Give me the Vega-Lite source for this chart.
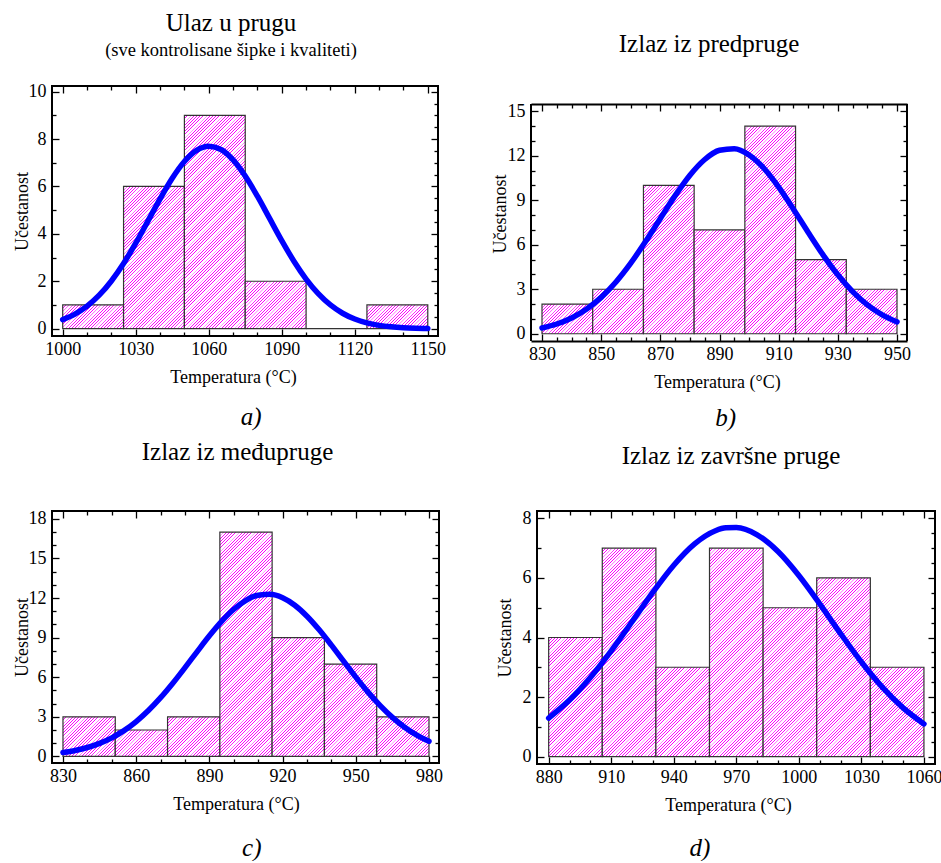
{
  "$schema": "https://vega.github.io/schema/vega-lite/v6.json",
  "padding": {"left": 12, "top": 10, "right": 3, "bottom": 0},
  "params": [
    {"name": "hatch", "value": [
{"offset":0.00,"color":"#f0f"},{"offset":0.002,"color":"#f0f"},{"offset":0.003,"color":"#fff"},{"offset":0.0095,"color":"#fff"},
{"offset":0.01,"color":"#f0f"},{"offset":0.012,"color":"#f0f"},{"offset":0.013,"color":"#fff"},{"offset":0.0195,"color":"#fff"},
{"offset":0.02,"color":"#f0f"},{"offset":0.022,"color":"#f0f"},{"offset":0.023,"color":"#fff"},{"offset":0.0295,"color":"#fff"},
{"offset":0.03,"color":"#f0f"},{"offset":0.032,"color":"#f0f"},{"offset":0.033,"color":"#fff"},{"offset":0.0395,"color":"#fff"},
{"offset":0.04,"color":"#f0f"},{"offset":0.042,"color":"#f0f"},{"offset":0.043,"color":"#fff"},{"offset":0.0495,"color":"#fff"},
{"offset":0.05,"color":"#f0f"},{"offset":0.052,"color":"#f0f"},{"offset":0.053,"color":"#fff"},{"offset":0.0595,"color":"#fff"},
{"offset":0.06,"color":"#f0f"},{"offset":0.062,"color":"#f0f"},{"offset":0.063,"color":"#fff"},{"offset":0.0695,"color":"#fff"},
{"offset":0.07,"color":"#f0f"},{"offset":0.072,"color":"#f0f"},{"offset":0.073,"color":"#fff"},{"offset":0.0795,"color":"#fff"},
{"offset":0.08,"color":"#f0f"},{"offset":0.082,"color":"#f0f"},{"offset":0.083,"color":"#fff"},{"offset":0.0895,"color":"#fff"},
{"offset":0.09,"color":"#f0f"},{"offset":0.092,"color":"#f0f"},{"offset":0.093,"color":"#fff"},{"offset":0.0995,"color":"#fff"},
{"offset":0.10,"color":"#f0f"},{"offset":0.102,"color":"#f0f"},{"offset":0.103,"color":"#fff"},{"offset":0.1095,"color":"#fff"},
{"offset":0.11,"color":"#f0f"},{"offset":0.112,"color":"#f0f"},{"offset":0.113,"color":"#fff"},{"offset":0.1195,"color":"#fff"},
{"offset":0.12,"color":"#f0f"},{"offset":0.122,"color":"#f0f"},{"offset":0.123,"color":"#fff"},{"offset":0.1295,"color":"#fff"},
{"offset":0.13,"color":"#f0f"},{"offset":0.132,"color":"#f0f"},{"offset":0.133,"color":"#fff"},{"offset":0.1395,"color":"#fff"},
{"offset":0.14,"color":"#f0f"},{"offset":0.142,"color":"#f0f"},{"offset":0.143,"color":"#fff"},{"offset":0.1495,"color":"#fff"},
{"offset":0.15,"color":"#f0f"},{"offset":0.152,"color":"#f0f"},{"offset":0.153,"color":"#fff"},{"offset":0.1595,"color":"#fff"},
{"offset":0.16,"color":"#f0f"},{"offset":0.162,"color":"#f0f"},{"offset":0.163,"color":"#fff"},{"offset":0.1695,"color":"#fff"},
{"offset":0.17,"color":"#f0f"},{"offset":0.172,"color":"#f0f"},{"offset":0.173,"color":"#fff"},{"offset":0.1795,"color":"#fff"},
{"offset":0.18,"color":"#f0f"},{"offset":0.182,"color":"#f0f"},{"offset":0.183,"color":"#fff"},{"offset":0.1895,"color":"#fff"},
{"offset":0.19,"color":"#f0f"},{"offset":0.192,"color":"#f0f"},{"offset":0.193,"color":"#fff"},{"offset":0.1995,"color":"#fff"},
{"offset":0.20,"color":"#f0f"},{"offset":0.202,"color":"#f0f"},{"offset":0.203,"color":"#fff"},{"offset":0.2095,"color":"#fff"},
{"offset":0.21,"color":"#f0f"},{"offset":0.212,"color":"#f0f"},{"offset":0.213,"color":"#fff"},{"offset":0.2195,"color":"#fff"},
{"offset":0.22,"color":"#f0f"},{"offset":0.222,"color":"#f0f"},{"offset":0.223,"color":"#fff"},{"offset":0.2295,"color":"#fff"},
{"offset":0.23,"color":"#f0f"},{"offset":0.232,"color":"#f0f"},{"offset":0.233,"color":"#fff"},{"offset":0.2395,"color":"#fff"},
{"offset":0.24,"color":"#f0f"},{"offset":0.242,"color":"#f0f"},{"offset":0.243,"color":"#fff"},{"offset":0.2495,"color":"#fff"},
{"offset":0.25,"color":"#f0f"},{"offset":0.252,"color":"#f0f"},{"offset":0.253,"color":"#fff"},{"offset":0.2595,"color":"#fff"},
{"offset":0.26,"color":"#f0f"},{"offset":0.262,"color":"#f0f"},{"offset":0.263,"color":"#fff"},{"offset":0.2695,"color":"#fff"},
{"offset":0.27,"color":"#f0f"},{"offset":0.272,"color":"#f0f"},{"offset":0.273,"color":"#fff"},{"offset":0.2795,"color":"#fff"},
{"offset":0.28,"color":"#f0f"},{"offset":0.282,"color":"#f0f"},{"offset":0.283,"color":"#fff"},{"offset":0.2895,"color":"#fff"},
{"offset":0.29,"color":"#f0f"},{"offset":0.292,"color":"#f0f"},{"offset":0.293,"color":"#fff"},{"offset":0.2995,"color":"#fff"},
{"offset":0.30,"color":"#f0f"},{"offset":0.302,"color":"#f0f"},{"offset":0.303,"color":"#fff"},{"offset":0.3095,"color":"#fff"},
{"offset":0.31,"color":"#f0f"},{"offset":0.312,"color":"#f0f"},{"offset":0.313,"color":"#fff"},{"offset":0.3195,"color":"#fff"},
{"offset":0.32,"color":"#f0f"},{"offset":0.322,"color":"#f0f"},{"offset":0.323,"color":"#fff"},{"offset":0.3295,"color":"#fff"},
{"offset":0.33,"color":"#f0f"},{"offset":0.332,"color":"#f0f"},{"offset":0.333,"color":"#fff"},{"offset":0.3395,"color":"#fff"},
{"offset":0.34,"color":"#f0f"},{"offset":0.342,"color":"#f0f"},{"offset":0.343,"color":"#fff"},{"offset":0.3495,"color":"#fff"},
{"offset":0.35,"color":"#f0f"},{"offset":0.352,"color":"#f0f"},{"offset":0.353,"color":"#fff"},{"offset":0.3595,"color":"#fff"},
{"offset":0.36,"color":"#f0f"},{"offset":0.362,"color":"#f0f"},{"offset":0.363,"color":"#fff"},{"offset":0.3695,"color":"#fff"},
{"offset":0.37,"color":"#f0f"},{"offset":0.372,"color":"#f0f"},{"offset":0.373,"color":"#fff"},{"offset":0.3795,"color":"#fff"},
{"offset":0.38,"color":"#f0f"},{"offset":0.382,"color":"#f0f"},{"offset":0.383,"color":"#fff"},{"offset":0.3895,"color":"#fff"},
{"offset":0.39,"color":"#f0f"},{"offset":0.392,"color":"#f0f"},{"offset":0.393,"color":"#fff"},{"offset":0.3995,"color":"#fff"},
{"offset":0.40,"color":"#f0f"},{"offset":0.402,"color":"#f0f"},{"offset":0.403,"color":"#fff"},{"offset":0.4095,"color":"#fff"},
{"offset":0.41,"color":"#f0f"},{"offset":0.412,"color":"#f0f"},{"offset":0.413,"color":"#fff"},{"offset":0.4195,"color":"#fff"},
{"offset":0.42,"color":"#f0f"},{"offset":0.422,"color":"#f0f"},{"offset":0.423,"color":"#fff"},{"offset":0.4295,"color":"#fff"},
{"offset":0.43,"color":"#f0f"},{"offset":0.432,"color":"#f0f"},{"offset":0.433,"color":"#fff"},{"offset":0.4395,"color":"#fff"},
{"offset":0.44,"color":"#f0f"},{"offset":0.442,"color":"#f0f"},{"offset":0.443,"color":"#fff"},{"offset":0.4495,"color":"#fff"},
{"offset":0.45,"color":"#f0f"},{"offset":0.452,"color":"#f0f"},{"offset":0.453,"color":"#fff"},{"offset":0.4595,"color":"#fff"},
{"offset":0.46,"color":"#f0f"},{"offset":0.462,"color":"#f0f"},{"offset":0.463,"color":"#fff"},{"offset":0.4695,"color":"#fff"},
{"offset":0.47,"color":"#f0f"},{"offset":0.472,"color":"#f0f"},{"offset":0.473,"color":"#fff"},{"offset":0.4795,"color":"#fff"},
{"offset":0.48,"color":"#f0f"},{"offset":0.482,"color":"#f0f"},{"offset":0.483,"color":"#fff"},{"offset":0.4895,"color":"#fff"},
{"offset":0.49,"color":"#f0f"},{"offset":0.492,"color":"#f0f"},{"offset":0.493,"color":"#fff"},{"offset":0.4995,"color":"#fff"},
{"offset":0.50,"color":"#f0f"},{"offset":0.502,"color":"#f0f"},{"offset":0.503,"color":"#fff"},{"offset":0.5095,"color":"#fff"},
{"offset":0.51,"color":"#f0f"},{"offset":0.512,"color":"#f0f"},{"offset":0.513,"color":"#fff"},{"offset":0.5195,"color":"#fff"},
{"offset":0.52,"color":"#f0f"},{"offset":0.522,"color":"#f0f"},{"offset":0.523,"color":"#fff"},{"offset":0.5295,"color":"#fff"},
{"offset":0.53,"color":"#f0f"},{"offset":0.532,"color":"#f0f"},{"offset":0.533,"color":"#fff"},{"offset":0.5395,"color":"#fff"},
{"offset":0.54,"color":"#f0f"},{"offset":0.542,"color":"#f0f"},{"offset":0.543,"color":"#fff"},{"offset":0.5495,"color":"#fff"},
{"offset":0.55,"color":"#f0f"},{"offset":0.552,"color":"#f0f"},{"offset":0.553,"color":"#fff"},{"offset":0.5595,"color":"#fff"},
{"offset":0.56,"color":"#f0f"},{"offset":0.562,"color":"#f0f"},{"offset":0.563,"color":"#fff"},{"offset":0.5695,"color":"#fff"},
{"offset":0.57,"color":"#f0f"},{"offset":0.572,"color":"#f0f"},{"offset":0.573,"color":"#fff"},{"offset":0.5795,"color":"#fff"},
{"offset":0.58,"color":"#f0f"},{"offset":0.582,"color":"#f0f"},{"offset":0.583,"color":"#fff"},{"offset":0.5895,"color":"#fff"},
{"offset":0.59,"color":"#f0f"},{"offset":0.592,"color":"#f0f"},{"offset":0.593,"color":"#fff"},{"offset":0.5995,"color":"#fff"},
{"offset":0.60,"color":"#f0f"},{"offset":0.602,"color":"#f0f"},{"offset":0.603,"color":"#fff"},{"offset":0.6095,"color":"#fff"},
{"offset":0.61,"color":"#f0f"},{"offset":0.612,"color":"#f0f"},{"offset":0.613,"color":"#fff"},{"offset":0.6195,"color":"#fff"},
{"offset":0.62,"color":"#f0f"},{"offset":0.622,"color":"#f0f"},{"offset":0.623,"color":"#fff"},{"offset":0.6295,"color":"#fff"},
{"offset":0.63,"color":"#f0f"},{"offset":0.632,"color":"#f0f"},{"offset":0.633,"color":"#fff"},{"offset":0.6395,"color":"#fff"},
{"offset":0.64,"color":"#f0f"},{"offset":0.642,"color":"#f0f"},{"offset":0.643,"color":"#fff"},{"offset":0.6495,"color":"#fff"},
{"offset":0.65,"color":"#f0f"},{"offset":0.652,"color":"#f0f"},{"offset":0.653,"color":"#fff"},{"offset":0.6595,"color":"#fff"},
{"offset":0.66,"color":"#f0f"},{"offset":0.662,"color":"#f0f"},{"offset":0.663,"color":"#fff"},{"offset":0.6695,"color":"#fff"},
{"offset":0.67,"color":"#f0f"},{"offset":0.672,"color":"#f0f"},{"offset":0.673,"color":"#fff"},{"offset":0.6795,"color":"#fff"},
{"offset":0.68,"color":"#f0f"},{"offset":0.682,"color":"#f0f"},{"offset":0.683,"color":"#fff"},{"offset":0.6895,"color":"#fff"},
{"offset":0.69,"color":"#f0f"},{"offset":0.692,"color":"#f0f"},{"offset":0.693,"color":"#fff"},{"offset":0.6995,"color":"#fff"},
{"offset":0.70,"color":"#f0f"},{"offset":0.702,"color":"#f0f"},{"offset":0.703,"color":"#fff"},{"offset":0.7095,"color":"#fff"},
{"offset":0.71,"color":"#f0f"},{"offset":0.712,"color":"#f0f"},{"offset":0.713,"color":"#fff"},{"offset":0.7195,"color":"#fff"},
{"offset":0.72,"color":"#f0f"},{"offset":0.722,"color":"#f0f"},{"offset":0.723,"color":"#fff"},{"offset":0.7295,"color":"#fff"},
{"offset":0.73,"color":"#f0f"},{"offset":0.732,"color":"#f0f"},{"offset":0.733,"color":"#fff"},{"offset":0.7395,"color":"#fff"},
{"offset":0.74,"color":"#f0f"},{"offset":0.742,"color":"#f0f"},{"offset":0.743,"color":"#fff"},{"offset":0.7495,"color":"#fff"},
{"offset":0.75,"color":"#f0f"},{"offset":0.752,"color":"#f0f"},{"offset":0.753,"color":"#fff"},{"offset":0.7595,"color":"#fff"},
{"offset":0.76,"color":"#f0f"},{"offset":0.762,"color":"#f0f"},{"offset":0.763,"color":"#fff"},{"offset":0.7695,"color":"#fff"},
{"offset":0.77,"color":"#f0f"},{"offset":0.772,"color":"#f0f"},{"offset":0.773,"color":"#fff"},{"offset":0.7795,"color":"#fff"},
{"offset":0.78,"color":"#f0f"},{"offset":0.782,"color":"#f0f"},{"offset":0.783,"color":"#fff"},{"offset":0.7895,"color":"#fff"},
{"offset":0.79,"color":"#f0f"},{"offset":0.792,"color":"#f0f"},{"offset":0.793,"color":"#fff"},{"offset":0.7995,"color":"#fff"},
{"offset":0.80,"color":"#f0f"},{"offset":0.802,"color":"#f0f"},{"offset":0.803,"color":"#fff"},{"offset":0.8095,"color":"#fff"},
{"offset":0.81,"color":"#f0f"},{"offset":0.812,"color":"#f0f"},{"offset":0.813,"color":"#fff"},{"offset":0.8195,"color":"#fff"},
{"offset":0.82,"color":"#f0f"},{"offset":0.822,"color":"#f0f"},{"offset":0.823,"color":"#fff"},{"offset":0.8295,"color":"#fff"},
{"offset":0.83,"color":"#f0f"},{"offset":0.832,"color":"#f0f"},{"offset":0.833,"color":"#fff"},{"offset":0.8395,"color":"#fff"},
{"offset":0.84,"color":"#f0f"},{"offset":0.842,"color":"#f0f"},{"offset":0.843,"color":"#fff"},{"offset":0.8495,"color":"#fff"},
{"offset":0.85,"color":"#f0f"},{"offset":0.852,"color":"#f0f"},{"offset":0.853,"color":"#fff"},{"offset":0.8595,"color":"#fff"},
{"offset":0.86,"color":"#f0f"},{"offset":0.862,"color":"#f0f"},{"offset":0.863,"color":"#fff"},{"offset":0.8695,"color":"#fff"},
{"offset":0.87,"color":"#f0f"},{"offset":0.872,"color":"#f0f"},{"offset":0.873,"color":"#fff"},{"offset":0.8795,"color":"#fff"},
{"offset":0.88,"color":"#f0f"},{"offset":0.882,"color":"#f0f"},{"offset":0.883,"color":"#fff"},{"offset":0.8895,"color":"#fff"},
{"offset":0.89,"color":"#f0f"},{"offset":0.892,"color":"#f0f"},{"offset":0.893,"color":"#fff"},{"offset":0.8995,"color":"#fff"},
{"offset":0.90,"color":"#f0f"},{"offset":0.902,"color":"#f0f"},{"offset":0.903,"color":"#fff"},{"offset":0.9095,"color":"#fff"},
{"offset":0.91,"color":"#f0f"},{"offset":0.912,"color":"#f0f"},{"offset":0.913,"color":"#fff"},{"offset":0.9195,"color":"#fff"},
{"offset":0.92,"color":"#f0f"},{"offset":0.922,"color":"#f0f"},{"offset":0.923,"color":"#fff"},{"offset":0.9295,"color":"#fff"},
{"offset":0.93,"color":"#f0f"},{"offset":0.932,"color":"#f0f"},{"offset":0.933,"color":"#fff"},{"offset":0.9395,"color":"#fff"},
{"offset":0.94,"color":"#f0f"},{"offset":0.942,"color":"#f0f"},{"offset":0.943,"color":"#fff"},{"offset":0.9495,"color":"#fff"},
{"offset":0.95,"color":"#f0f"},{"offset":0.952,"color":"#f0f"},{"offset":0.953,"color":"#fff"},{"offset":0.9595,"color":"#fff"},
{"offset":0.96,"color":"#f0f"},{"offset":0.962,"color":"#f0f"},{"offset":0.963,"color":"#fff"},{"offset":0.9695,"color":"#fff"},
{"offset":0.97,"color":"#f0f"},{"offset":0.972,"color":"#f0f"},{"offset":0.973,"color":"#fff"},{"offset":0.9795,"color":"#fff"},
{"offset":0.98,"color":"#f0f"},{"offset":0.982,"color":"#f0f"},{"offset":0.983,"color":"#fff"},{"offset":0.9895,"color":"#fff"},
{"offset":0.99,"color":"#f0f"},{"offset":0.992,"color":"#f0f"},{"offset":0.993,"color":"#fff"},{"offset":0.9995,"color":"#fff"}
    ]}
  ],
  "vconcat": [
    {
      "hconcat": [
        {
          "title": {"text": "a)", "orient": "bottom", "anchor": "middle", "fontSize": 25, "fontStyle": "italic", "offset": 18, "dx": 22},
          "vconcat": [
            {
              "width": 386, "height": 250,
              "title": {"text": "Ulaz u prugu", "subtitle": "(sve kontrolisane šipke i kvaliteti)", "fontSize": 25, "subtitleFontSize": 18.5, "subtitlePadding": 5, "offset": 23, "dx": -14, "anchor": "middle"},
              "layer": [
                {
                  "data": {"values": [
                    {"start": 1000, "end": 1025, "count": 1},
                    {"start": 1025, "end": 1050, "count": 6},
                    {"start": 1050, "end": 1075, "count": 9},
                    {"start": 1075, "end": 1100, "count": 2},
                    {"start": 1100, "end": 1125, "count": 0},
                    {"start": 1125, "end": 1150, "count": 1}
                  ]},
                  "mark": {"type": "bar", "stroke": "#333333", "strokeWidth": 1.2, "fill": {"expr": "{gradient:'linear',x1:0,y1:0,x2:320*60.83/(3700+pow(datum.count*23.7,2)),y2:320*datum.count*23.7/(3700+pow(datum.count*23.7,2)),stops:hatch}"}},
                  "encoding": {
                    "x": {"field": "start", "type": "quantitative", "scale": {"domain": [995.6, 1154.2], "nice": false, "zero": false},
                      "axis": {"values": [1000,1010,1020,1030,1040,1050,1060,1070,1080,1090,1100,1110,1120,1130,1140,1150], "format": "d",
                        "labelExpr": "(datum.value-1000)%30===0 ? datum.label : ''",
                        "tickSize": {"condition": {"test": "(datum.value-1000)%30===0", "value": -7}, "value": -4},
                        "labelPadding": 11, "title": "Temperatura (°C)", "titlePadding": 7, "titleX": 181}},
                    "x2": {"field": "end"},
                    "y": {"field": "count", "type": "quantitative", "stack": null, "scale": {"domain": [-0.31, 10.24], "nice": false, "zero": false},
                      "axis": {"values": [0,0.5,1,1.5,2,2.5,3,3.5,4,4.5,5,5.5,6,6.5,7,7.5,8,8.5,9,9.5,10], "format": "d",
                        "labelExpr": "datum.value%2===0 ? datum.label : ''",
                        "tickSize": {"condition": {"test": "datum.value%2===0", "value": -7}, "value": -4},
                        "labelPadding": 13, "title": "Učestanost", "titlePadding": -3}},
                    "y2": {"datum": 0}
                  }
                },
                {
                  "data": {"values": [
                    {"t": 1000, "f": 0.382}, {"t": 1005, "f": 0.615}, {"t": 1010, "f": 0.952}, {"t": 1015, "f": 1.412},
                    {"t": 1020, "f": 2.013}, {"t": 1025, "f": 2.75}, {"t": 1030, "f": 3.606}, {"t": 1035, "f": 4.538},
                    {"t": 1040, "f": 5.478}, {"t": 1045, "f": 6.346}, {"t": 1050, "f": 7.054}, {"t": 1055, "f": 7.524},
                    {"t": 1060, "f": 7.699}, {"t": 1065, "f": 7.561}, {"t": 1070, "f": 7.124}, {"t": 1075, "f": 6.441},
                    {"t": 1080, "f": 5.588}, {"t": 1085, "f": 4.651}, {"t": 1090, "f": 3.715}, {"t": 1095, "f": 2.847},
                    {"t": 1100, "f": 2.094}, {"t": 1105, "f": 1.477}, {"t": 1110, "f": 1.0}, {"t": 1115, "f": 0.65},
                    {"t": 1120, "f": 0.405}, {"t": 1125, "f": 0.242}, {"t": 1130, "f": 0.139}, {"t": 1135, "f": 0.077},
                    {"t": 1140, "f": 0.04}, {"t": 1145, "f": 0.02}, {"t": 1150, "f": 0.01}
                  ]},
                  "mark": {"type": "line", "color": "#0000ff", "strokeWidth": 5.5, "strokeCap": "round", "interpolate": "monotone"},
                  "encoding": {
                    "x": {"field": "t", "type": "quantitative",
                      "axis": {"orient": "top", "values": [1000,1010,1020,1030,1040,1050,1060,1070,1080,1090,1100,1110,1120,1130,1140,1150], "labels": false, "title": null,
                        "tickSize": {"condition": {"test": "(datum.value-1000)%30===0", "value": -7}, "value": -4}}},
                    "y": {"field": "f", "type": "quantitative",
                      "axis": {"orient": "right", "values": [0,0.5,1,1.5,2,2.5,3,3.5,4,4.5,5,5.5,6,6.5,7,7.5,8,8.5,9,9.5,10], "labels": false, "title": null,
                        "tickSize": {"condition": {"test": "datum.value%2===0", "value": -7}, "value": -4}}}
                  }
                }
              ],
              "resolve": {"axis": {"x": "independent", "y": "independent"}}
            }
          ]
        },
        {
          "title": {"text": "b)", "orient": "bottom", "anchor": "middle", "fontSize": 25, "fontStyle": "italic", "offset": 15, "dx": 25},
          "vconcat": [
            {
              "width": 376, "height": 255,
              "view": {"stroke": null},
              "title": {"text": "Izlaz iz predpruge", "fontSize": 25, "offset": 29, "dx": -10, "anchor": "middle"},
              "layer": [
                {
                  "data": {"values": [
                    {"start": 830, "end": 847.14, "count": 2},
                    {"start": 847.14, "end": 864.29, "count": 3},
                    {"start": 864.29, "end": 881.43, "count": 10},
                    {"start": 881.43, "end": 898.57, "count": 7},
                    {"start": 898.57, "end": 915.71, "count": 14},
                    {"start": 915.71, "end": 932.86, "count": 5},
                    {"start": 932.86, "end": 950, "count": 3}
                  ]},
                  "mark": {"type": "bar", "stroke": "#333333", "strokeWidth": 1.2, "fill": {"expr": "{gradient:'linear',x1:0,y1:0,x2:320*50.71/(2571.5+pow(datum.count*14.83,2)),y2:320*datum.count*14.83/(2571.5+pow(datum.count*14.83,2)),stops:hatch}"}},
                  "encoding": {
                    "x": {"field": "start", "type": "quantitative", "scale": {"domain": [826.28, 953.38], "nice": false, "zero": false},
                      "axis": {"values": [830,835,840,845,850,855,860,865,870,875,880,885,890,895,900,905,910,915,920,925,930,935,940,945,950], "format": "d",
                        "domain": true, "domainColor": "black", "domainWidth": 2,
                        "labelExpr": "(datum.value-830)%20===0 ? datum.label : ''",
                        "tickSize": {"condition": {"test": "(datum.value-830)%20===0", "value": -7}, "value": -4},
                        "labelPadding": 11, "title": "Temperatura (°C)", "titlePadding": 7, "titleX": 186}},
                    "x2": {"field": "end"},
                    "y": {"field": "count", "type": "quantitative", "stack": null, "scale": {"domain": [-0.49, 16.70], "nice": false, "zero": false},
                      "axis": {"values": [0,1,2,3,4,5,6,7,8,9,10,11,12,13,14,15], "format": "d",
                        "labelExpr": "datum.value%3===0 ? datum.label : ''",
                        "tickSize": {"condition": {"test": "datum.value%3===0", "value": -7}, "value": -4},
                        "labelPadding": 13, "title": "Učestanost", "titlePadding": -2}},
                    "y2": {"datum": 0}
                  }
                },
                {
                  "data": {"values": [
                    {"t": 830, "f": 0.389}, {"t": 835, "f": 0.657}, {"t": 840, "f": 1.064}, {"t": 845, "f": 1.65},
                    {"t": 850, "f": 2.451}, {"t": 855, "f": 3.49}, {"t": 860, "f": 4.758}, {"t": 865, "f": 6.213},
                    {"t": 870, "f": 7.771}, {"t": 875, "f": 9.31}, {"t": 880, "f": 10.685}, {"t": 885, "f": 11.746},
                    {"t": 890, "f": 12.369}, {"t": 895, "f": 12.476}, {"t": 900, "f": 12.054}, {"t": 905, "f": 11.155},
                    {"t": 910, "f": 9.889}, {"t": 915, "f": 8.396}, {"t": 920, "f": 6.829}, {"t": 925, "f": 5.32},
                    {"t": 930, "f": 3.97}, {"t": 935, "f": 2.838}, {"t": 940, "f": 1.944}, {"t": 945, "f": 1.274},
                    {"t": 950, "f": 0.8}
                  ]},
                  "mark": {"type": "line", "color": "#0000ff", "strokeWidth": 5.5, "strokeCap": "round", "interpolate": "monotone"},
                  "encoding": {
                    "x": {"field": "t", "type": "quantitative",
                      "axis": {"orient": "top", "offset": -18, "domain": true, "domainColor": "black", "domainWidth": 2,
                        "values": [830,835,840,845,850,855,860,865,870,875,880,885,890,895,900,905,910,915,920,925,930,935,940,945,950], "labels": false, "title": null,
                        "tickSize": {"condition": {"test": "(datum.value-830)%20===0", "value": -7}, "value": -4}}},
                    "y": {"field": "f", "type": "quantitative",
                      "axis": {"orient": "right", "values": [0,1,2,3,4,5,6,7,8,9,10,11,12,13,14,15], "labels": false, "title": null,
                        "tickSize": {"condition": {"test": "datum.value%3===0", "value": -7}, "value": -4}}}
                  }
                },
                {
                  "data": {"values": [{}]},
                  "mark": {"type": "rule", "color": "black", "strokeWidth": 2},
                  "encoding": {
                    "x": {"datum": 826.28, "type": "quantitative", "axis": null},
                    "y": {"datum": -0.49, "type": "quantitative", "axis": null},
                    "y2": {"datum": 15.49}
                  }
                },
                {
                  "data": {"values": [{}]},
                  "mark": {"type": "rule", "color": "black", "strokeWidth": 2},
                  "encoding": {
                    "x": {"datum": 953.38, "type": "quantitative", "axis": null},
                    "y": {"datum": -0.49, "type": "quantitative", "axis": null},
                    "y2": {"datum": 15.49}
                  }
                }
              ],
              "resolve": {"axis": {"x": "independent", "y": "independent"}}
            }
          ]
        }
      ],
      "spacing": 44
    },
    {
      "hconcat": [
        {
          "title": {"text": "c)", "orient": "bottom", "anchor": "middle", "fontSize": 25, "fontStyle": "italic", "offset": 22, "dx": 24},
          "vconcat": [
            {
              "width": 387, "height": 252,
              "title": {"text": "Izlaz iz međupruge", "fontSize": 25, "offset": 45, "dx": -8, "anchor": "middle"},
              "layer": [
                {
                  "data": {"values": [
                    {"start": 830, "end": 851.43, "count": 3},
                    {"start": 851.43, "end": 872.86, "count": 2},
                    {"start": 872.86, "end": 894.29, "count": 3},
                    {"start": 894.29, "end": 915.71, "count": 17},
                    {"start": 915.71, "end": 937.14, "count": 9},
                    {"start": 937.14, "end": 958.57, "count": 7},
                    {"start": 958.57, "end": 980, "count": 3}
                  ]},
                  "mark": {"type": "bar", "stroke": "#333333", "strokeWidth": 1.2, "fill": {"expr": "{gradient:'linear',x1:0,y1:0,x2:320*52.29/(2734+pow(datum.count*13.19,2)),y2:320*datum.count*13.19/(2734+pow(datum.count*13.19,2)),stops:hatch}"}},
                  "encoding": {
                    "x": {"field": "start", "type": "quantitative", "scale": {"domain": [825.5, 984.1], "nice": false, "zero": false},
                      "axis": {"values": [830,840,850,860,870,880,890,900,910,920,930,940,950,960,970,980], "format": "d",
                        "labelExpr": "(datum.value-830)%30===0 ? datum.label : ''",
                        "tickSize": {"condition": {"test": "(datum.value-830)%30===0", "value": -7}, "value": -4},
                        "labelPadding": 11, "title": "Temperatura (°C)", "titlePadding": 7, "titleX": 184}},
                    "x2": {"field": "end"},
                    "y": {"field": "count", "type": "quantitative", "stack": null, "scale": {"domain": [-0.5, 18.6], "nice": false, "zero": false},
                      "axis": {"values": [0,1,2,3,4,5,6,7,8,9,10,11,12,13,14,15,16,17,18], "format": "d",
                        "labelExpr": "datum.value%3===0 ? datum.label : ''",
                        "tickSize": {"condition": {"test": "datum.value%3===0", "value": -7}, "value": -4},
                        "labelPadding": 13, "title": "Učestanost", "titlePadding": -3}},
                    "y2": {"datum": 0}
                  }
                },
                {
                  "data": {"values": [
                    {"t": 830, "f": 0.29}, {"t": 835, "f": 0.448}, {"t": 840, "f": 0.674}, {"t": 845, "f": 0.988},
                    {"t": 850, "f": 1.409}, {"t": 855, "f": 1.955}, {"t": 860, "f": 2.642}, {"t": 865, "f": 3.475},
                    {"t": 870, "f": 4.449}, {"t": 875, "f": 5.545}, {"t": 880, "f": 6.729}, {"t": 885, "f": 7.948},
                    {"t": 890, "f": 9.141}, {"t": 895, "f": 10.234}, {"t": 900, "f": 11.152}, {"t": 905, "f": 11.831},
                    {"t": 910, "f": 12.219}, {"t": 915, "f": 12.285}, {"t": 920, "f": 12.023}, {"t": 925, "f": 11.456},
                    {"t": 930, "f": 10.626}, {"t": 935, "f": 9.594}, {"t": 940, "f": 8.433}, {"t": 945, "f": 7.216},
                    {"t": 950, "f": 6.011}, {"t": 955, "f": 4.874}, {"t": 960, "f": 3.848}, {"t": 965, "f": 2.957},
                    {"t": 970, "f": 2.212}, {"t": 975, "f": 1.611}, {"t": 980, "f": 1.143}
                  ]},
                  "mark": {"type": "line", "color": "#0000ff", "strokeWidth": 5.5, "strokeCap": "round", "interpolate": "monotone"},
                  "encoding": {
                    "x": {"field": "t", "type": "quantitative",
                      "axis": {"orient": "top", "values": [830,840,850,860,870,880,890,900,910,920,930,940,950,960,970,980], "labels": false, "title": null,
                        "tickSize": {"condition": {"test": "(datum.value-830)%30===0", "value": -7}, "value": -4}}},
                    "y": {"field": "f", "type": "quantitative",
                      "axis": {"orient": "right", "values": [0,1,2,3,4,5,6,7,8,9,10,11,12,13,14,15,16,17,18], "labels": false, "title": null,
                        "tickSize": {"condition": {"test": "datum.value%3===0", "value": -7}, "value": -4}}}
                  }
                }
              ],
              "resolve": {"axis": {"x": "independent", "y": "independent"}}
            }
          ]
        },
        {
          "title": {"text": "d)", "orient": "bottom", "anchor": "middle", "fontSize": 25, "fontStyle": "italic", "offset": 21, "dx": -19},
          "vconcat": [
            {
              "width": 398, "height": 253,
              "title": {"text": "Izlaz iz završne pruge", "fontSize": 25, "offset": 40, "dx": -5, "anchor": "middle"},
              "layer": [
                {
                  "data": {"values": [
                    {"start": 880, "end": 905.71, "count": 4},
                    {"start": 905.71, "end": 931.43, "count": 7},
                    {"start": 931.43, "end": 957.14, "count": 3},
                    {"start": 957.14, "end": 982.86, "count": 7},
                    {"start": 982.86, "end": 1008.57, "count": 5},
                    {"start": 1008.57, "end": 1034.29, "count": 6},
                    {"start": 1034.29, "end": 1060, "count": 3}
                  ]},
                  "mark": {"type": "bar", "stroke": "#333333", "strokeWidth": 1.2, "fill": {"expr": "{gradient:'linear',x1:0,y1:0,x2:320*53.61/(2874+pow(datum.count*29.76,2)),y2:320*datum.count*29.76/(2874+pow(datum.count*29.76,2)),stops:hatch}"}},
                  "encoding": {
                    "x": {"field": "start", "type": "quantitative", "scale": {"domain": [874.4, 1065.3], "nice": false, "zero": false},
                      "axis": {"values": [880,890,900,910,920,930,940,950,960,970,980,990,1000,1010,1020,1030,1040,1050,1060], "format": "d",
                        "labelExpr": "(datum.value-880)%30===0 ? datum.label : ''",
                        "tickSize": {"condition": {"test": "(datum.value-880)%30===0", "value": -7}, "value": -4},
                        "labelPadding": 11, "title": "Temperatura (°C)", "titlePadding": 7, "titleX": 191}},
                    "x2": {"field": "end"},
                    "y": {"field": "count", "type": "quantitative", "stack": null, "scale": {"domain": [-0.25, 8.25], "nice": false, "zero": false},
                      "axis": {"values": [0,0.5,1,1.5,2,2.5,3,3.5,4,4.5,5,5.5,6,6.5,7,7.5,8], "format": "d",
                        "labelExpr": "datum.value%2===0 ? datum.label : ''",
                        "tickSize": {"condition": {"test": "datum.value%2===0", "value": -7}, "value": -4},
                        "labelPadding": 13, "title": "Učestanost", "titlePadding": 8}},
                    "y2": {"datum": 0}
                  }
                },
                {
                  "data": {"values": [
                    {"t": 880, "f": 1.294}, {"t": 890, "f": 1.897}, {"t": 900, "f": 2.655}, {"t": 910, "f": 3.549},
                    {"t": 920, "f": 4.53}, {"t": 930, "f": 5.522}, {"t": 940, "f": 6.429}, {"t": 950, "f": 7.146},
                    {"t": 960, "f": 7.588}, {"t": 965, "f": 7.684}, {"t": 970, "f": 7.693}, {"t": 980, "f": 7.449},
                    {"t": 990, "f": 6.888}, {"t": 1000, "f": 6.082}, {"t": 1010, "f": 5.13}, {"t": 1020, "f": 4.132},
                    {"t": 1030, "f": 3.178}, {"t": 1040, "f": 2.334}, {"t": 1050, "f": 1.637}, {"t": 1060, "f": 1.097}
                  ]},
                  "mark": {"type": "line", "color": "#0000ff", "strokeWidth": 5.5, "strokeCap": "round", "interpolate": "monotone"},
                  "encoding": {
                    "x": {"field": "t", "type": "quantitative",
                      "axis": {"orient": "top", "values": [880,890,900,910,920,930,940,950,960,970,980,990,1000,1010,1020,1030,1040,1050,1060], "labels": false, "title": null,
                        "tickSize": {"condition": {"test": "(datum.value-880)%30===0", "value": -7}, "value": -4}}},
                    "y": {"field": "f", "type": "quantitative",
                      "axis": {"orient": "right", "values": [0,0.5,1,1.5,2,2.5,3,3.5,4,4.5,5,5.5,6,6.5,7,7.5,8], "labels": false, "title": null,
                        "tickSize": {"condition": {"test": "datum.value%2===0", "value": -7}, "value": -4}}}
                  }
                }
              ],
              "resolve": {"axis": {"x": "independent", "y": "independent"}}
            }
          ]
        }
      ],
      "spacing": 51
    }
  ],
  "spacing": 7,
  "config": {
    "font": "Liberation Serif",
    "view": {"stroke": "black", "strokeWidth": 2},
    "axis": {"domain": false, "grid": false, "labelFont": "Liberation Serif", "titleFont": "Liberation Serif", "labelFontSize": 18, "titleFontSize": 18, "titleFontWeight": "normal", "labelColor": "black", "titleColor": "black", "tickColor": "black", "tickWidth": 1.3, "labelOverlap": false, "labelFlush": false, "labelBound": false},
    "title": {"font": "Liberation Serif", "fontWeight": "normal", "color": "black", "subtitleFont": "Liberation Serif", "subtitleColor": "black"}
  }
}
